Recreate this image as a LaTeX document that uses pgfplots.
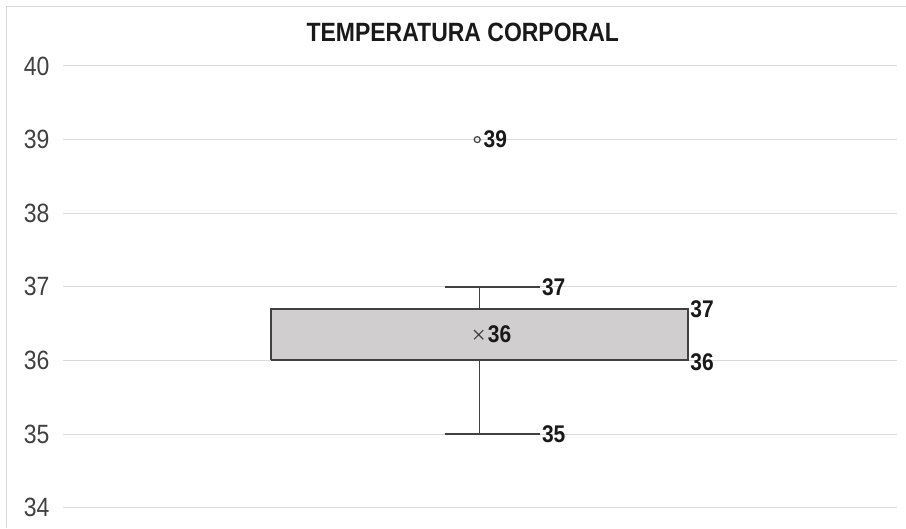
\documentclass[border=0pt]{standalone}
\usepackage{fontspec}
\setmainfont{Liberation Sans}
\usepackage{graphicx}
\usepackage{pgfplots}
\pgfplotsset{compat=1.18}
\definecolor{boxgray}{HTML}{D0CECE}
\definecolor{linegray}{HTML}{404040}
\definecolor{gridgray}{HTML}{D9D9D9}
\newcommand{\st}[1]{\scalebox{1}[1.15]{#1}}
\begin{document}
\begin{tikzpicture}[x=1pt,y=1pt]
\path (0,0) rectangle (906,528);
\draw[gridgray, line width=1pt] (7,0) -- (7,521) -- (906,521);
\node[font=\fontsize{23}{26}\selectfont\bfseries, text=black!90] at (463,496) {\st{TEMPERATURA CORPORAL}};
\begin{axis}[at={(63pt,20pt)}, anchor=south west, scale only axis,
  width=834pt, height=442pt,
  xmin=0, xmax=2, ymin=34, ymax=40,
  ytick={34,35,...,40}, xtick=\empty,
  ymajorgrids, grid style={gridgray, line width=1pt},
  axis line style={draw=none},
  major tick length=0pt,
  /pgf/number format/assume math mode=true,
  yticklabel={\st{\pgfmathprintnumber{\tick}}},
  yticklabel style={font=\fontsize{23}{26}\selectfont, text=linegray, xshift=-10pt},
  clip=false]
% box
\addplot[draw=linegray, fill=boxgray, line width=2pt] coordinates {(0.5,36) (1.5,36) (1.5,36.7) (0.5,36.7) (0.5,36)};
% whiskers
\addplot[draw=linegray, line width=1.4pt] coordinates {(1,36.7) (1,37)};
\addplot[draw=linegray, line width=1.4pt] coordinates {(0.916,37) (1.144,37)};
\addplot[draw=linegray, line width=1.4pt] coordinates {(1,36) (1,35)};
\addplot[draw=linegray, line width=1.4pt] coordinates {(0.916,35) (1.144,35)};
% mean
\addplot[only marks, mark=x, mark size=6.5pt, mark options={draw=linegray, line width=1.1pt}] coordinates {(0.9975,36.35)};
% outlier
\addplot[only marks, mark=o, mark size=3pt, mark options={draw=linegray, line width=1.2pt}] coordinates {(0.994,39)};
% labels
\begin{scope}[every node/.style={font=\fontsize{21}{24}\selectfont\bfseries, text=black!90, anchor=west, inner sep=0pt}]
\node at (axis cs:1.149,37) {\st{37}};
\node at (axis cs:1.149,35) {\st{35}};
\node at (axis cs:1.505,36.7) {\st{37}};
\node at (axis cs:1.505,35.98) {\st{36}};
\node at (axis cs:1.019,36.35) {\st{36}};
\node at (axis cs:1.009,39) {\st{39}};
\end{scope}
\end{axis}
\end{tikzpicture}
\end{document}
